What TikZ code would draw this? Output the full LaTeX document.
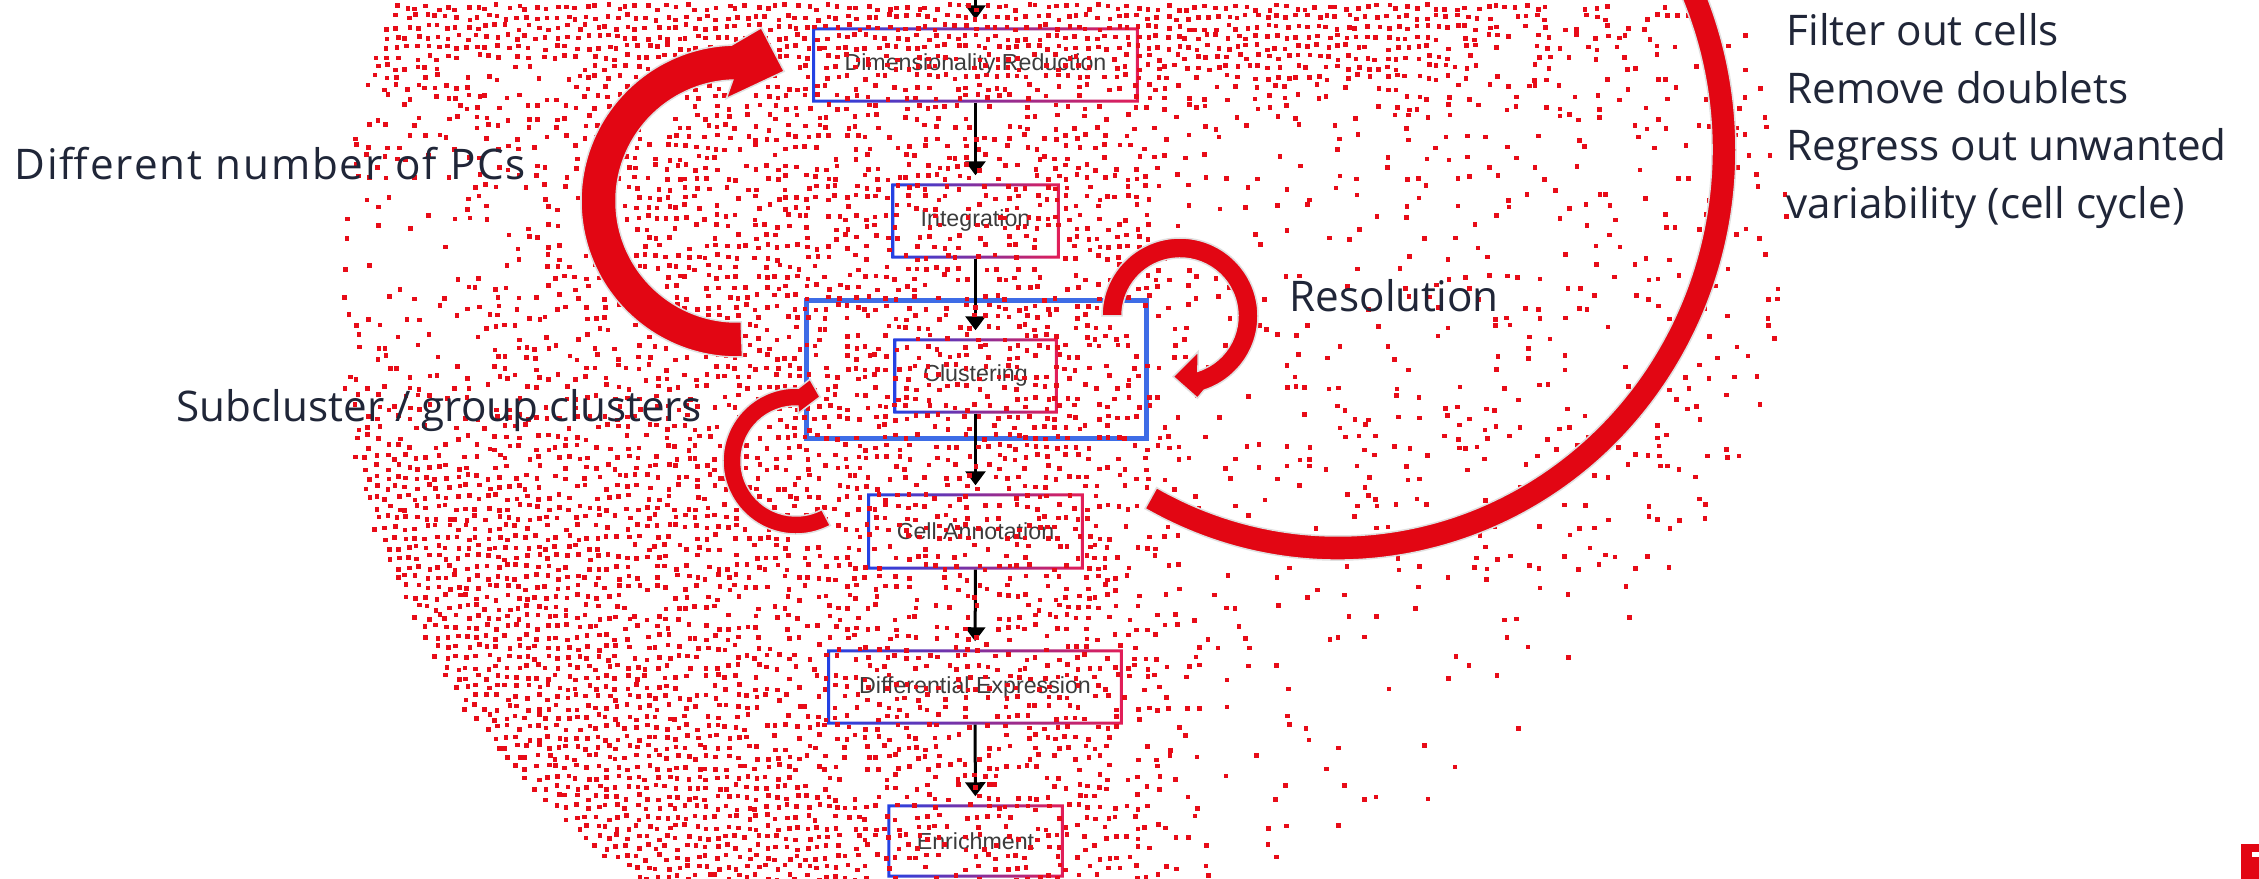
\documentclass[tikz,border=0pt]{standalone}
\usepackage{fontspec}
\newfontfamily\labelfont{Open Sans}
\newfontfamily\boxfont{Liberation Sans}
\usetikzlibrary{arrows.meta,calc}
\definecolor{brandred}{RGB}{226,6,19}
\definecolor{dotred}{RGB}{232,12,24}
\definecolor{boxblue}{RGB}{36,66,228}
\definecolor{boxcrimson}{RGB}{226,30,88}
\definecolor{wrapblue}{RGB}{62,108,230}
\definecolor{labelnavy}{RGB}{32,38,56}
\definecolor{boxtext}{RGB}{60,60,60}
\newcommand\gradframe[1]{\shade[left color=boxblue,right color=boxcrimson,even odd rule]
  (#1.north west) rectangle (#1.south east)
  ($(#1.north west)+(3,3)$) rectangle ($(#1.south east)+(-3,-3)$);}
\newcommand\dotsq{\fill[dotred] ({\x+3*rand},{\yy+3*rand}) rectangle ++(4.6,4.6);}
\begin{document}
\begin{tikzpicture}[x=0.01cm,y=-0.01cm,
  stepbox/.style={draw=none,inner sep=0pt,font=\boxfont\fontsize{6.6}{8}\selectfont,text=boxtext},
  wrapbox/.style={draw=wrapblue,line width=0.05cm,inner sep=0pt},
  flowarrow/.style={draw=black,line width=0.03cm,-{Triangle[length=0.14cm,width=0.2cm]},shorten >=0.08cm},
  redarrow/.style={fill=brandred,draw=black!12,line width=0.015cm},
  biglabel/.style={font=\labelfont\fontsize{12}{14}\selectfont,text=labelnavy,inner sep=0pt,anchor=base west}]
\useasboundingbox (0,0) rectangle (2259,879);
\clip (0,0) rectangle (2259,879);
\fill[white] (0,0) rectangle (2259,879);

% flow boxes
\node[stepbox,minimum width=3.25cm,minimum height=0.74cm] (dimred) at (975.5,65) {Dimensionality Reduction};
\node[stepbox,minimum width=1.67cm,minimum height=0.74cm] (integ) at (975.5,221) {Integration};
\node[wrapbox,minimum width=3.40cm,minimum height=1.38cm] (wrap) at (976.5,369.5) {};
\node[stepbox,minimum width=1.63cm,minimum height=0.74cm] (clust) at (975.5,376) {Clustering};
\node[stepbox,minimum width=2.15cm,minimum height=0.75cm] (annot) at (975.5,531.5) {Cell Annotation};
\node[stepbox,minimum width=2.94cm,minimum height=0.74cm] (diffex) at (975,687) {Differential Expression};
\node[stepbox,minimum width=1.75cm,minimum height=0.72cm] (enrich) at (975.5,841) {Enrichment};
\gradframe{dimred}\gradframe{integ}\gradframe{clust}\gradframe{annot}\gradframe{diffex}\gradframe{enrich}

\coordinate (feed) at (975.5,-10);
\draw[flowarrow] (feed) -- (dimred);
\draw[flowarrow] (dimred) -- (integ);
\draw[flowarrow] (integ) -- (clust);
\draw[flowarrow] (clust) -- (annot);
\draw[flowarrow] (annot) -- (diffex);
\draw[flowarrow] (diffex) -- (enrich);

% halftone dot cloud (jittered 10px grid, density by region)
\pgfmathsetseed{4242}
\foreach \j in {0,...,87}{%
  \pgfmathsetmacro\yy{5+10*\j}%
  \pgfmathsetmacro\Y{\yy/100}%
  \pgfmathsetmacro\dy{(\Y-2.9)^2}%
  \pgfmathsetmacro\dq{(\Y-2.6)^2}%
  \pgfmathsetmacro\sa{335+10*ceil((730-100*sqrt(53.29-\dy))/10)}%
  \pgfmathsetmacro\sb{\sa+10}%
  \pgfmathsetmacro\xb{min(1785,1065+100*sqrt(53.29-\dy),1050+100*sqrt(max(0,56.25-(\Y-1.5)^2)))}%
  \pgfmathsetmacro\ty{max(0,0.95*(1-\Y/1.4))}%
  \pgfmathsetmacro\by{min(1,max(0,(\Y-3.5)/1.5))}%
  \pgfmathsetmacro\fl{max(.05,min(.1,.1-(\Y-4.8)*.025))}%
  \ifdim\ty pt>0pt \def\termtop{,\ty*min(1,(1750-\x)/400)}\else\def\termtop{}\fi
  \ifdim\by pt>0pt \def\termbl{,\by*min(1,max(0,(((\x-1065)/100)^2+\dy-20)/22))*min(1,(1000-\x)/200)}\else\def\termbl{}\fi
  \ifdim\dq pt<6.76pt \def\termf{*min(1,max(.2,sqrt(((\x-400)/100)^2+\dq)/2.6))}\else\def\termf{}\fi
  \foreach \x in {\sa,\sb,...,695}{%
    \pgfmathtruncatemacro\ok{rnd<1.55*max(min(.45,.70125-.00035*\x),.08\termtop\termbl)\termf}%
    \ifnum\ok=1 \dotsq\fi}%
  \foreach \x in {705,715,...,995}{%
    \pgfmathtruncatemacro\ok{rnd<1.55*max(min(.45,.70125-.00035*\x),.08\termtop\termbl)}%
    \ifnum\ok=1 \dotsq\fi}%
  \foreach \x in {1005,1015,...,\xb}{%
    \pgfmathtruncatemacro\ok{rnd<1.55*max(min(.42,.36-.0025*(\x-1100)),\fl\termtop)}%
    \ifnum\ok=1 \dotsq\fi}%
}

% labels
\node[biglabel,font=\labelfont\fontsize{12}{14}\selectfont\addfontfeature{LetterSpace=4.5}] (pcs) at (14,180) {Different number of PCs};
\node[biglabel] (subcl) at (176,422) {Subcluster / group clusters};
\node[biglabel] (resol) at (1289,312) {Resolution};
\node[biglabel] (qc1) at (1786,46) {Filter out cells};
\node[biglabel] (qc2) at (1786,103.5) {Remove doublets};
\node[biglabel] (qc3) at (1786,161) {Regress out unwanted};
\node[biglabel] (qc4) at (1786,218.5) {variability (cell cycle)};

% red loop arrows
\coordinate (pcC) at (737,201);
\coordinate (resC) at (1180,316);
\coordinate (subC) at (796,461);
\coordinate (qcC) at (1338,150);
\path[redarrow] ($(pcC)+(88:156)$) arc[start angle=88,end angle=268,radius=156]
  -- ($(pcC)+(278:175)$) -- ($(pcC)+(290:138)$) -- ($(pcC)+(264:103)$) -- ($(pcC)+(268:121)$)
  arc[start angle=268,end angle=88,radius=121] -- cycle;
\path[redarrow] ($(resC)+(180:78)$) arc[start angle=180,end angle=432,radius=78]
  -- ($(resC)+(78:84)$) -- ($(resC)+(96.5:61)$) -- ($(resC)+(63:40)$) -- ($(resC)+(432:58)$)
  arc[start angle=432,end angle=180,radius=58] -- cycle;
\path[redarrow] ($(subC)+(62:73)$) arc[start angle=62,end angle=272,radius=73]
  -- ($(subC)+(279.7:83)$) -- ($(subC)+(290.6:68.5)$) -- ($(subC)+(272.8:47.8)$) -- ($(subC)+(272:55)$)
  arc[start angle=272,end angle=62,radius=55] -- cycle;
\path[redarrow] ($(qcC)+(119:398 and 410)$) arc[start angle=119,end angle=-35,x radius=398,y radius=410]
  -- ($(qcC)+(-35:374 and 386)$) arc[start angle=-35,end angle=119,x radius=374,y radius=386] -- cycle;

% corner logo fragment
\fill[brandred] (2241,844) rectangle (2259,879);
\fill[white] (2252,852) rectangle (2259,857);
\end{tikzpicture}
\end{document}
